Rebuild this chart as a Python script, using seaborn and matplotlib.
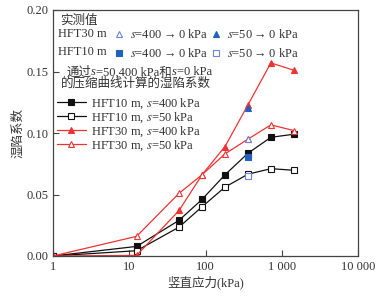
import numpy as np
import pandas as pd
import seaborn as sns
import matplotlib.pyplot as plt
from matplotlib.lines import Line2D
from matplotlib.ticker import FixedLocator, FixedFormatter

# vertical stress (kPa) and collapse coefficients
stress = [1, 12.5, 45, 90, 180, 360, 720, 1440]
hft10_s400 = [0.0, 0.0078, 0.029, 0.046, 0.066, 0.0835, 0.0965, 0.099]
hft10_s50 = [0.0, 0.0043, 0.0235, 0.040, 0.056, 0.0665, 0.071, 0.0697]
hft30_s400 = [0.0, 0.0005, 0.037, 0.066, 0.089, 0.1228, 0.157, 0.151]
hft30_s50 = [0.0, 0.016, 0.051, 0.066, 0.083, 0.095, 0.1066, 0.102]

# measured values at 400 kPa
meas_stress = [360]
hft30_400to0 = [0.095]
hft30_50to0 = [0.120]
hft10_400to0 = [0.0806]
hft10_50to0 = [0.065]

xticks = [1, 10, 100, 1000, 10000]
xticklabels = ['1', '10', '100', '1 000', '10 000']
yticks = [0.0, 0.05, 0.10, 0.15, 0.20]


def rich_line(ax, x, y, pieces, color):
    # chain text pieces so that the italic "s" can sit inside CJK text
    prev = None
    for s, italic in pieces:
        style = 'italic' if italic else 'normal'
        if prev is None:
            prev = ax.text(x, y, s, transform=ax.transAxes, color=color,
                           fontsize=9, fontstyle=style, va='bottom', ha='left')
        else:
            prev = ax.annotate(s, xy=(1, 0), xycoords=prev, color=color,
                               fontsize=9, fontstyle=style, va='bottom',
                               ha='left')


def main():
    sns.set_style('ticks')
    plt.rcParams['font.family'] = ['Liberation Serif', 'Noto Sans CJK SC', 'DejaVu Sans']
    plt.rcParams['mathtext.fontset'] = 'stix'
    plt.rcParams['font.size'] = 9
    txt = '#333333'

    fig = plt.figure(figsize=(3.76, 2.96), dpi=100)
    ax = fig.add_axes([53 / 376, 40 / 296, 305 / 376, 246 / 296])

    red = '#f03232'
    blk = '#111111'
    series = [
        (hft10_s400, blk, 's', blk, 'HFT10 m, $s$=400 kPa'),
        (hft10_s50, blk, 's', 'white', 'HFT10 m, $s$=50 kPa'),
        (hft30_s400, red, '^', red, 'HFT30 m, $s$=400 kPa'),
        (hft30_s50, red, '^', 'white', 'HFT30 m, $s$=50 kPa'),
    ]
    line_handles = []
    for vals, col, mk, fc, lab in series:
        df = pd.DataFrame({'x': stress, 'y': vals})
        sns.lineplot(data=df, x='x', y='y', ax=ax, color=col, lw=0.9,
                     marker=mk, markersize=4.5, markerfacecolor=fc,
                     markeredgecolor=col, markeredgewidth=0.8, legend=False)
        line_handles.append(Line2D([], [], color=col, lw=0.9, marker=mk,
                                   markersize=4.5, markerfacecolor=fc,
                                   markeredgecolor=col, markeredgewidth=0.8,
                                   label=lab))

    blue = '#2060c0'
    lblue = '#6b86d6'
    meas = [
        (hft30_400to0, '^', 'white', lblue),
        (hft10_400to0, 's', blue, blue),
        (hft30_50to0, '^', blue, blue),
        (hft10_50to0, 's', 'white', lblue),
    ]
    for vals, mk, fc, ec in meas:
        ax.plot(meas_stress, vals, ls='none', marker=mk, markersize=4.5,
                markerfacecolor=fc, markeredgecolor=ec, markeredgewidth=0.8)

    ax.set_xscale('log')
    ax.set_xlim(1, 10000)
    ax.set_ylim(0, 0.20)
    ax.xaxis.set_major_locator(FixedLocator(xticks))
    ax.xaxis.set_major_formatter(FixedFormatter(xticklabels))
    ax.xaxis.set_minor_locator(FixedLocator([]))
    ax.set_yticks(yticks)
    ax.set_yticklabels(['%.2f' % v for v in yticks])
    ax.tick_params(direction='in', length=4, width=0.8, colors='#444444',
                   labelcolor=txt, labelsize=9)
    for sp in ax.spines.values():
        sp.set_visible(True)
        sp.set_color('#444444')
        sp.set_linewidth(0.9)
    ax.set_xlabel('竖直应力(kPa)', color=txt, fontsize=9, labelpad=2)
    ax.set_ylabel('湿陷系数', color=txt, fontsize=9, labelpad=1)

    # measured-value legend
    ax.text(0.023, 0.955, '实测值', transform=ax.transAxes, color=txt,
            fontsize=9, va='center', ha='left')
    ax.text(0.016, 0.902, 'HFT30 m', transform=ax.transAxes, color=txt,
            fontsize=9, va='center', ha='left')
    ax.text(0.016, 0.829, 'HFT10 m', transform=ax.transAxes, color=txt,
            fontsize=9, va='center', ha='left')
    mh = []
    mlabels = ['$s$=400\u2009\u2192\u20090 kPa', '$s$=400\u2009\u2192\u20090 kPa',
               '$s$=50\u2009\u2192\u20090 kPa', '$s$=50\u2009\u2192\u20090 kPa']
    for (vals, mk, fc, ec), lab in zip(meas, mlabels):
        mh.append(Line2D([], [], ls='none', marker=mk, markersize=4.5,
                         markerfacecolor=fc, markeredgecolor=ec,
                         markeredgewidth=0.8, label=lab))
    leg1 = ax.legend(handles=mh, loc='upper left', bbox_to_anchor=(0.2, 0.925),
                     ncol=2, frameon=False, fontsize=9, handlelength=0.8,
                     handletextpad=0.5, columnspacing=0.2, labelspacing=0.45,
                     borderpad=0, borderaxespad=0)
    for t in leg1.get_texts():
        t.set_color(txt)
    ax.add_artist(leg1)

    rich_line(ax, 0.043, 0.722,
              [('通过', False), ('s', True), ('=50,400 kPa和', False),
               ('s', True), ('=0 kPa', False)], txt)
    rich_line(ax, 0.026, 0.677, [('的压缩曲线计算的湿陷系数', False)], txt)

    leg2 = ax.legend(handles=line_handles, loc='upper left',
                     bbox_to_anchor=(0.013, 0.649), frameon=False, fontsize=9,
                     handlelength=2.3, handletextpad=0.4, labelspacing=-0.05,
                     borderpad=0, borderaxespad=0)
    for t in leg2.get_texts():
        t.set_color(txt)

    fig.savefig('out.png', dpi=100)


if __name__ == '__main__':
    main()
